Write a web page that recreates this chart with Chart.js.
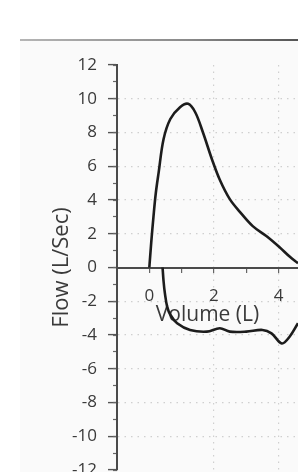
<!DOCTYPE html>
<html>
<head>
<meta charset="utf-8">
<script src="https://cdn.jsdelivr.net/npm/chart.js@4/dist/chart.umd.min.js"></script>
<style>
  html, body { margin: 0; padding: 0; background: #ffffff; }
  #wrap { position: relative; width: 298px; height: 472px; overflow: hidden; }
  #paper { position: absolute; left: 20px; top: 41px; width: 278px; height: 431px; background: #fafafa; }
  #rule { position: absolute; left: 20px; top: 39px; width: 278px; height: 2px;
          background: linear-gradient(to right, #b5b5b5, #8a8a8a 60%, #555555); }
  canvas { position: absolute; left: 0; top: 0; }
</style>
</head>
<body>
<div id="wrap">
  <div id="paper"></div>
  <div id="rule"></div>
  <canvas id="c" width="298" height="472"></canvas>
</div>
<script>
// Expiratory limb (volume L, flow L/s)
const expVolume = [0, 0.06, 0.13, 0.2, 0.29, 0.44, 0.65, 0.95, 1.2, 1.42, 1.66, 1.94, 2.18, 2.49, 2.8, 3.2, 3.63, 4.03, 4.34, 4.6];
const expFlow   = [0, 1.5, 3.05, 4.4, 5.65, 7.6, 8.8, 9.5, 9.7, 9.2, 8.0, 6.4, 5.2, 4.05, 3.3, 2.45, 1.85, 1.2, 0.65, 0.25];
// Inspiratory limb
const inspVolume = [0.41, 0.44, 0.48, 0.55, 0.65, 0.86, 1.26, 1.78, 2.18, 2.49, 3.0, 3.5, 3.78, 4.1, 4.34, 4.6];
const inspFlow   = [0, -0.8, -1.5, -2.3, -2.8, -3.3, -3.7, -3.8, -3.6, -3.8, -3.8, -3.7, -3.9, -4.5, -4.1, -3.3];

const xLabels = [0, 2, 4];
const yLabels = [12, 10, 8, 6, 4, 2, 0, -2, -4, -6, -8, -10, -12];

const xTitle = 'Volume (L)';
const yTitle = 'Flow (L/Sec)';

const toPts = (xs, ys) => xs.map((x, i) => ({ x: x, y: ys[i] }));
const rnd = (v) => Math.round(v * 1000) / 1000;

const FONT = "'Open Sans', 'Noto Sans', 'DejaVu Sans', sans-serif";
const TXT = '#3a3a3a';

function noPad(s) { s.paddingTop = 0; s.paddingBottom = 0; s.paddingLeft = 0; s.paddingRight = 0; }

new Chart(document.getElementById('c'), {
  type: 'scatter',
  data: {
    datasets: [
      { data: toPts(expVolume, expFlow), showLine: true, borderColor: '#1c1c1c', borderWidth: 2.6,
        pointRadius: 0, tension: 0.35, fill: false },
      { data: toPts(inspVolume, inspFlow), showLine: true, borderColor: '#1c1c1c', borderWidth: 2.6,
        pointRadius: 0, tension: 0.35, fill: false }
    ]
  },
  options: {
    responsive: false,
    animation: false,
    events: [],
    layout: { padding: { left: 0, right: 0, top: 65, bottom: 2 } },
    plugins: { legend: { display: false }, tooltip: { enabled: false } },
    scales: {
      x: {
        type: 'linear',
        min: -1, max: 4.6,
        position: { y: 0 },
        afterFit: noPad,
        ticks: {
          stepSize: 1,
          includeBounds: false,
          padding: 14,
          maxRotation: 0,
          autoSkip: false,
          color: TXT,
          font: { family: FONT, size: 17 },
          callback: (v) => xLabels.includes(rnd(v)) ? String(rnd(v)) : ''
        },
        grid: {
          drawOnChartArea: true,
          color: (ctx) => (ctx.tick && (rnd(ctx.tick.value) === 2 || rnd(ctx.tick.value) === 4)) ? '#cfcfcf' : 'rgba(0,0,0,0)',
          lineWidth: 1.2,
          tickLength: 4,
          tickWidth: 1.2,
          tickColor: (ctx) => (ctx.tick && Number.isInteger(rnd(ctx.tick.value)) && rnd(ctx.tick.value) >= 0) ? '#666' : 'rgba(0,0,0,0)'
        },
        border: { display: true, color: '#4a4a4a', width: 2, dash: [1.5, 5] },
        title: { display: true, text: xTitle, color: TXT, font: { family: FONT, size: 21 }, padding: { top: -17, bottom: 0 } }
      },
      y: {
        type: 'linear',
        min: -12, max: 12,
        position: 'left',
        afterFit: (s) => { s.width = 117; noPad(s); },
        ticks: {
          stepSize: 2,
          padding: 11,
          color: TXT,
          font: { family: FONT, size: 17 },
          callback: (v) => yLabels.includes(rnd(v)) ? String(rnd(v)) : ''
        },
        grid: {
          drawOnChartArea: true,
          color: (ctx) => (ctx.tick && rnd(ctx.tick.value) !== 0 && Math.abs(ctx.tick.value) < 11.9) ? '#cfcfcf' : 'rgba(0,0,0,0)',
          lineWidth: 1.2,
          tickLength: 9,
          tickWidth: 1.4,
          tickColor: '#555'
        },
        border: { display: true, color: '#4a4a4a', width: 2, dash: [1.5, 5] },
        title: { display: true, text: yTitle, color: TXT, font: { family: FONT, size: 22 }, padding: { top: 49, bottom: 0 } }
      },
      yMinor: {
        type: 'linear',
        min: -12, max: 12,
        position: { x: -1 },
        afterFit: noPad,
        ticks: { stepSize: 1, display: true, callback: () => '' , font: { size: 1 } },
        grid: {
          drawOnChartArea: false,
          tickLength: 4,
          tickWidth: 1.2,
          tickColor: '#666'
        },
        border: { display: false }
      }
    }
  }
});
</script>
</body>
</html>
